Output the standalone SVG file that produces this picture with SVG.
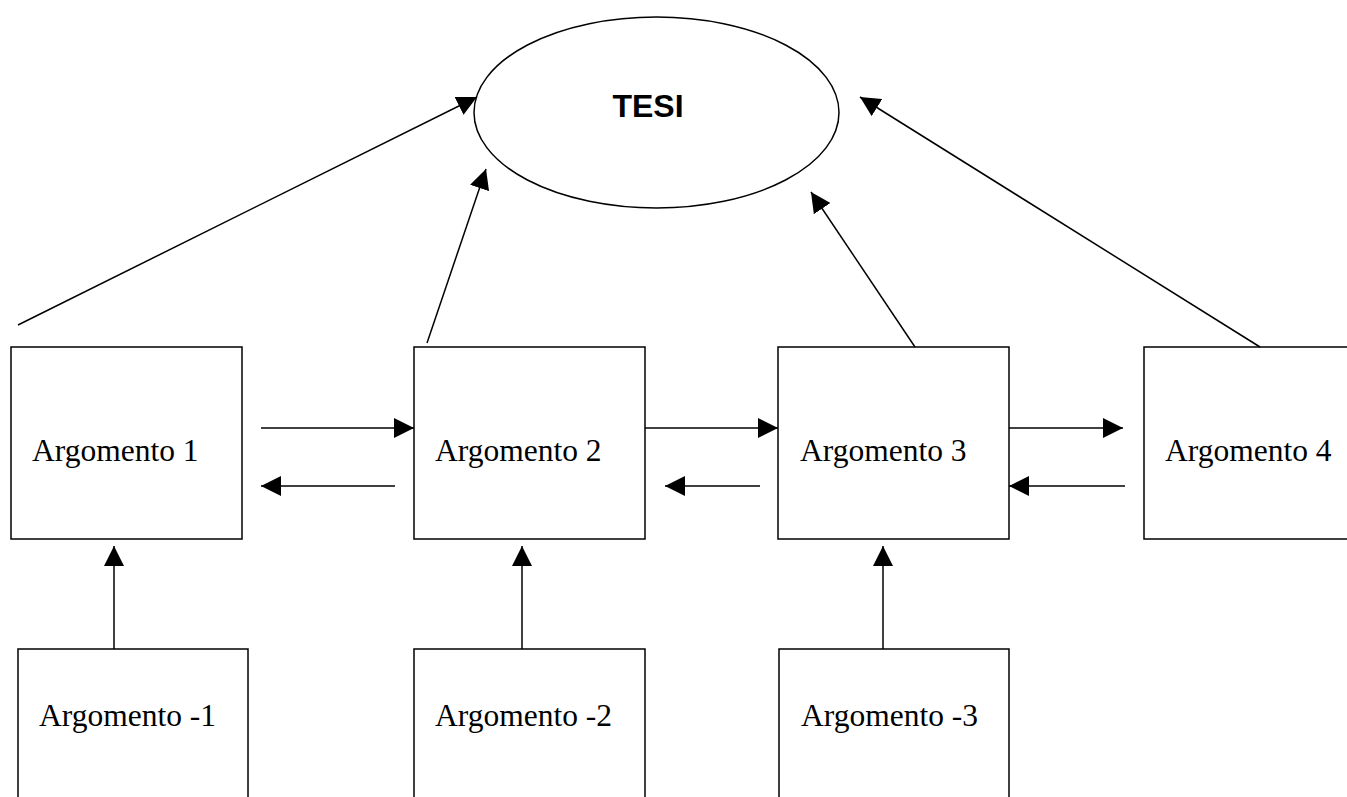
<svg xmlns="http://www.w3.org/2000/svg" width="1347" height="797" viewBox="0 0 1347 797">
<style>
.box{fill:#fff;stroke:#000;stroke-width:1.5}
.lbl{font-family:"Liberation Serif","Times New Roman",serif;font-size:31.5px;fill:#000}
.tesi{font-family:"Liberation Sans",Arial,sans-serif;font-size:32px;font-weight:bold;fill:#000}
.c line{stroke:#000;stroke-width:1.5;marker-end:url(#ah)}
</style>
<defs>
<marker id="ah" markerUnits="userSpaceOnUse" markerWidth="20" markerHeight="20" refX="20" refY="10" orient="auto" viewBox="0 0 20 20">
<path d="M0,0 L20,10 L0,20 z" fill="#000"/>
</marker>
</defs>
<rect width="1347" height="797" fill="#fff"/>
<g id="tesi">
<ellipse cx="656.5" cy="112.5" rx="182.5" ry="95.5" class="box"/>
<text x="648" y="117" class="tesi" text-anchor="middle">TESI</text>
</g>
<g id="arg1"><rect x="11" y="347" width="231" height="192" class="box"/><text x="32" y="461" class="lbl">Argomento 1</text></g>
<g id="arg2"><rect x="414" y="347" width="231" height="192" class="box"/><text x="435" y="461" class="lbl">Argomento 2</text></g>
<g id="arg3"><rect x="778" y="347" width="231" height="192" class="box"/><text x="800" y="461" class="lbl">Argomento 3</text></g>
<g id="arg4"><rect x="1144" y="347" width="240" height="192" class="box"/><text x="1165" y="461" class="lbl">Argomento 4</text></g>
<g id="argm1"><rect x="18" y="649" width="230" height="170" class="box"/><text x="39" y="726" class="lbl">Argomento -1</text></g>
<g id="argm2"><rect x="414" y="649" width="231" height="170" class="box"/><text x="435" y="726" class="lbl">Argomento -2</text></g>
<g id="argm3"><rect x="779" y="649" width="230" height="170" class="box"/><text x="801" y="726" class="lbl">Argomento -3</text></g>
<g id="connectors" class="c">
<line x1="18" y1="325" x2="477" y2="97"/>
<line x1="427" y1="343" x2="486" y2="169"/>
<line x1="915" y1="347" x2="811" y2="192"/>
<line x1="1260" y1="347" x2="860" y2="97"/>
<line x1="261" y1="428" x2="414" y2="428"/>
<line x1="395" y1="486" x2="261" y2="486"/>
<line x1="645" y1="428" x2="778" y2="428"/>
<line x1="760" y1="486" x2="665" y2="486"/>
<line x1="1009" y1="428" x2="1123" y2="428"/>
<line x1="1125" y1="486" x2="1009" y2="486"/>
<line x1="114" y1="649" x2="114" y2="546"/>
<line x1="522" y1="649" x2="522" y2="546"/>
<line x1="883" y1="649" x2="883" y2="546"/>
</g>
</svg>
